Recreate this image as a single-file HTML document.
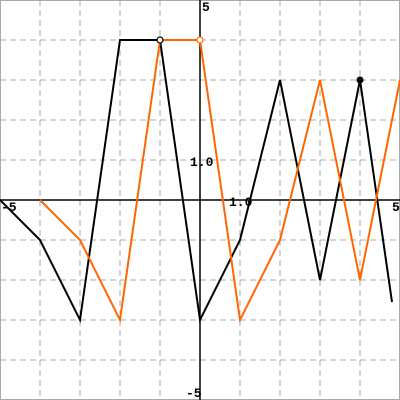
<!DOCTYPE html>
<html><head><meta charset="utf-8"><style>
html,body{margin:0;padding:0;background:#fff}
svg{display:block}
text{font-family:"Liberation Mono",monospace;font-size:13px;font-weight:bold;fill:#000}
</style></head><body>
<svg id="chart" width="400" height="400" viewBox="0 0 400 400">
<g id="grid"></g>
<g id="axes"></g>
<g id="series"></g>
<g id="labels"></g>
</svg>
<script>
const blackX=[-5,-4,-3,-2,-1,0,1,2,3,4,4.8];
const blackY=[0,-1,-3,4,4,-3,-1,3,-2,3,-2.55];
const orangeX=[-4,-3,-2,-1,0,1,2,3,4,5];
const orangeY=[0,-1,-3,4,4,-3,-1,3,-2,3];
const gridTicks=[-4,-3,-2,-1,1,2,3,4];
const ns='http://www.w3.org/2000/svg';
const sx=v=>200+v*40, sy=v=>200-v*40;
function mk(tag,attrs,parent){const e=document.createElementNS(ns,tag);for(const k in attrs)e.setAttribute(k,attrs[k]);parent.appendChild(e);return e;}
const grid=document.getElementById('grid');
gridTicks.forEach(t=>{
 let l=mk('line',{x1:sx(t),x2:sx(t),y1:0,y2:400,stroke:'#aaa','stroke-dasharray':'6,4'},grid);
 
 
 let m=mk('line',{x1:0,x2:400,y1:sy(t),y2:sy(t),stroke:'#aaa','stroke-dasharray':'6,4'},grid);
 
 
});
const axes=document.getElementById('axes');
let b=mk('rect',{x:0.5,y:0.5,width:399,height:399,fill:'none',stroke:'#aaa'},axes);


let ax=mk('line',{x1:0,x2:400,y1:sy(0),y2:sy(0),stroke:'#000','stroke-width':1.5},axes);


let ay=mk('line',{x1:sx(0),x2:sx(0),y1:0,y2:400,stroke:'#000','stroke-width':1.5},axes);


const ser=document.getElementById('series');
function line(xs,ys,color,name){
 const p=mk('polyline',{points:xs.map((x,i)=>sx(x)+','+sy(ys[i])).join(' '),fill:'none',stroke:color,'stroke-width':2},ser);
 
 
}
line(blackX,blackY,'#000','black-series');
line(orangeX,orangeY,'#ff6600','orange-series');
let c1=mk('circle',{cx:sx(blackX[4]),cy:sy(blackY[4]),r:3,fill:'#fff',stroke:'#000','stroke-width':1.2},ser);


let c2=mk('circle',{cx:sx(orangeX[4]),cy:sy(orangeY[4]),r:3,fill:'#fff',stroke:'#ff6600','stroke-width':1.2},ser);


let c3=mk('circle',{cx:sx(blackX[9]),cy:sy(blackY[9]),r:3.5,fill:'#000'},ser);


const lab=document.getElementById('labels');
[['-5',1,211,'x-min-label'],['5',392,211,'x-max-label'],['1.0',229,206,'x-unit-label'],['5',202,11,'y-max-label'],['1.0',190,166,'y-unit-label'],['-5',186,397,'y-min-label']].forEach(d=>{
 const t=mk('text',{x:d[1],y:d[2]},lab);t.textContent=d[0];
 
 
});
</script>
</body></html>
